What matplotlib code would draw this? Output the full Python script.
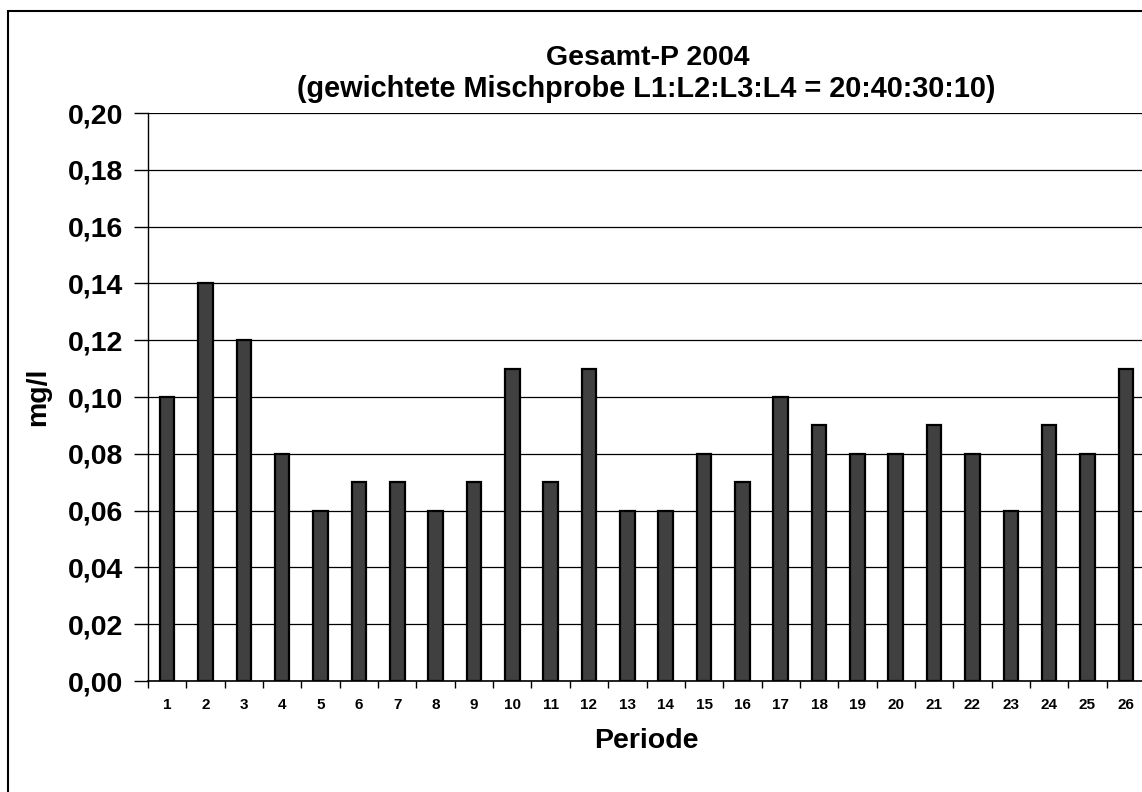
import matplotlib
matplotlib.use("Agg")
import matplotlib.pyplot as plt
from matplotlib.patches import Rectangle
from matplotlib.ticker import FixedLocator, FuncFormatter

plt.rcParams['font.family'] = ['Liberation Sans', 'DejaVu Sans']
plt.rcParams['font.weight'] = 'bold'

# Gesamt-P per sampling period, mg/l
perioden = list(range(1, 27))
gesamt_p = [0.10, 0.14, 0.12, 0.08, 0.06, 0.07, 0.07, 0.06, 0.07, 0.11,
            0.07, 0.11, 0.06, 0.06, 0.08, 0.07, 0.10, 0.09, 0.08, 0.08,
            0.09, 0.08, 0.06, 0.09, 0.08, 0.11]
y_ticks = [0.00, 0.02, 0.04, 0.06, 0.08, 0.10, 0.12, 0.14, 0.16, 0.18, 0.20]

W, H = 1142, 792
fig = plt.figure(figsize=(W / 100, H / 100), dpi=100)

# chart frame, runs past the right and bottom edge
fig.patches.append(Rectangle((8 / W, -0.05), 1.1, 1 - 11 / H + 0.05,
                             transform=fig.transFigure, fill=False,
                             edgecolor='black', linewidth=1.5))

left, right, top, bottom = 148, 1145, 113, 681
ax = fig.add_axes([left / W, 1 - bottom / H, (right - left) / W, (bottom - top) / H])

x = [p - 1 for p in perioden]
ax.bar(x, gesamt_p, width=0.38, color='#404040', edgecolor='black',
       linewidth=1.6, zorder=3)

ax.set_xlim(-0.5, len(perioden) - 0.5)
ax.set_ylim(0, 0.20)

ax.set_yticks(y_ticks)
ax.yaxis.set_major_formatter(FuncFormatter(lambda v, p: f"{v:.2f}".replace('.', ',')))
ax.yaxis.grid(True, color='black', linewidth=0.9, zorder=0)
ax.tick_params(axis='y', length=10, width=1, labelsize=20.5, pad=8)

# category labels centred, tick marks between the categories
ax.set_xticks(x)
ax.set_xticklabels([str(p) for p in perioden], fontsize=11, fontweight='bold')
ax.tick_params(axis='x', length=0, pad=12)
ax.xaxis.set_minor_locator(FixedLocator([i - 0.5 for i in range(len(perioden) + 1)]))
ax.tick_params(axis='x', which='minor', length=5, width=1)

for s in ['top', 'right']:
    ax.spines[s].set_visible(False)
ax.spines['left'].set_linewidth(1)
ax.spines['bottom'].set_linewidth(1.2)

ax.set_xlabel('Periode', fontsize=20.5, fontweight='bold', labelpad=12)
ax.set_ylabel('mg/l', fontsize=20.5, fontweight='bold', labelpad=12)

fig.text(648 / W, 1 - 58 / H, 'Gesamt-P 2004', ha='center', va='center',
         fontsize=20.5, fontweight='bold')
fig.text(646 / W, 1 - 89 / H, '(gewichtete Mischprobe L1:L2:L3:L4 = 20:40:30:10)',
         ha='center', va='center', fontsize=20.8, fontweight='bold')

fig.savefig('out.png', dpi=100)
